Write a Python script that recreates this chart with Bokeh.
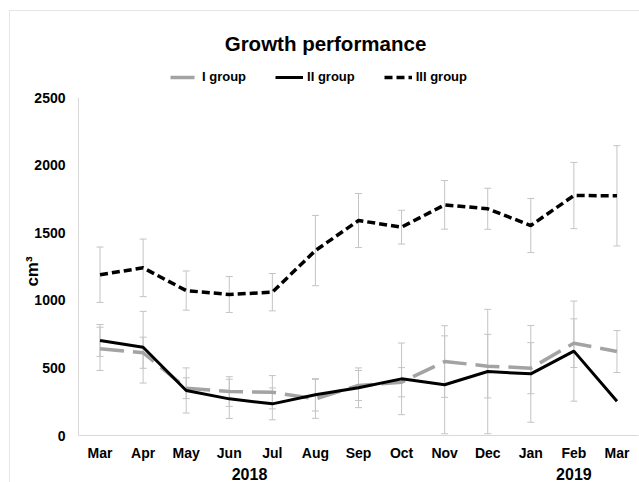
import math
from bokeh.plotting import figure
from bokeh.models import ColumnDataSource, Range1d, FixedTicker, Whisker, TeeHead, Label
from bokeh.embed import file_html
from bokeh.resources import INLINE

# Monthly growth (cm3) with standard deviations, March 2018 - March 2019
months = ["Mar", "Apr", "May", "Jun", "Jul", "Aug", "Sep", "Oct", "Nov", "Dec", "Jan", "Feb", "Mar"]
years = ["2018", "2019"]
y_ticks = [0, 500, 1000, 1500, 2000, 2500]

g1 = [641, 612, 350, 325, 320, 271, 370, 394, 547, 513, 498, 683, 621]
g1_err = [160, 115, 77, 110, 123, 144, 111, 108, 265, 235, 189, 180, 155]

g2 = [703, 653, 333, 271, 234, 301, 353, 419, 375, 473, 456, 624, 254]
g2_err = [118, 265, 167, 145, 118, 120, 147, 265, 362, 460, 358, 370, None]

g3 = [1189, 1240, 1072, 1043, 1060, 1368, 1590, 1541, 1706, 1677, 1553, 1775, 1773]
g3_err = [205, 213, 145, 133, 138, 260, 200, 125, 180, 152, 200, 245, 371]

FONT = "Liberation Sans"
ERR_COLOR = "#c4c4c4"
AXIS_COLOR = "#d9d9d9"
EDGE = "#e6e6e6"

W, H = 639, 482
# plotting area in page pixels: left, right, top (2500), bottom (0)
PL, PR, PT, PB = 78, 638, 97, 435

xs = list(range(len(months)))
n = len(months)
y_max = y_ticks[-1]

# the frame covers the whole page; axes sit at fixed data positions inside it
px_per_cat = (PR - PL) / n
px_per_unit = (PB - PT) / y_max
x_start = -0.5 - PL / px_per_cat
x_end = -0.5 + (W - PL) / px_per_cat
y_start = -(H - PB) / px_per_unit
y_end = PB / px_per_unit

p = figure(width=W, height=H, output_backend="svg", toolbar_location=None,
           x_range=Range1d(x_start, x_end), y_range=Range1d(y_start, y_end),
           min_border=0)
p.background_fill_alpha = 0
p.border_fill_alpha = 0
# white page with a faint chart-area edge along the top and left
p.styles = {"background": (f"linear-gradient({EDGE},{EDGE}) 9px 10px / 1px 100% no-repeat, "
                           f"linear-gradient({EDGE},{EDGE}) 9px 10px / 100% 1px no-repeat, white")}
p.outline_line_color = None
p.grid.visible = False


def add_errors(vals, errs):
    bx, lo, hi = [], [], []
    for x, v, e in zip(xs, vals, errs):
        if e is None:
            continue
        bx.append(x)
        lo.append(v - e)
        hi.append(v + e)
    src = ColumnDataSource(dict(x=bx, lower=lo, upper=hi))
    w = Whisker(base="x", lower="lower", upper="upper", source=src, dimension="height",
                line_color=ERR_COLOR, line_width=1,
                upper_head=TeeHead(size=7, line_color=ERR_COLOR, line_width=1),
                lower_head=TeeHead(size=7, line_color=ERR_COLOR, line_width=1))
    w.level = "underlay"
    p.add_layout(w)


add_errors(g1, g1_err)
add_errors(g2, g2_err)
add_errors(g3, g3_err)

src = ColumnDataSource(dict(x=xs, g1=g1, g2=g2, g3=g3))
p.line("x", "g1", source=src, line_color="#a3a3a3", line_width=3.5, line_dash="24 9",
       legend_label="I group")
p.line("x", "g2", source=src, line_color="black", line_width=3, legend_label="II group")
p.line("x", "g3", source=src, line_color="black", line_width=3.5, line_dash="8 4",
       legend_label="III group")

# axes
xa, ya = p.xaxis[0], p.yaxis[0]
xa.fixed_location = 0
xa.bounds = (-0.5, n - 0.5)
xa.ticker = FixedTicker(ticks=xs)
xa.major_label_overrides = {i: m for i, m in zip(xs, months)}
ya.fixed_location = -0.5
ya.bounds = (0, y_max)
ya.ticker = FixedTicker(ticks=y_ticks)
for ax in (xa, ya):
    ax.axis_line_color = AXIS_COLOR
    ax.axis_line_width = 1
    ax.major_tick_line_color = None
    ax.minor_tick_line_color = None
    ax.major_label_text_font = FONT
    ax.major_label_text_font_style = "bold"
    ax.major_label_text_font_size = "14px"
    ax.major_label_text_color = "black"
xa.major_label_standoff = 3
ya.major_label_standoff = 7

# legend across the top
lg = p.legend[0]
lg.orientation = "horizontal"
lg.location = (170, H - 84)
lg.label_text_font = FONT
lg.label_text_font_style = "bold"
lg.label_text_font_size = "13px"
lg.label_text_color = "black"
lg.glyph_width = 28
lg.glyph_height = 14
lg.label_height = 14
lg.label_standoff = 4
lg.spacing = 29
lg.padding = 0
lg.margin = 0
lg.border_line_color = None
lg.background_fill_alpha = 0


def text(x, y, s, size, angle=0.0, x_units="screen"):
    p.add_layout(Label(x=x, y=y, x_units=x_units, y_units="screen", text=s, angle=angle,
                       text_font=FONT, text_font_style="bold", text_font_size=size,
                       text_align="center", text_baseline="middle", text_color="black"))


text(325, H - 43, "Growth performance", "20.5px")
text(32, H - 271, "cm³", "17px", angle=math.pi / 2)
text(249, H - 473.5, years[0], "16px")
text(11, H - 473, years[1], "16px", x_units="data")

open("out.html", "w").write(file_html(p, INLINE))
